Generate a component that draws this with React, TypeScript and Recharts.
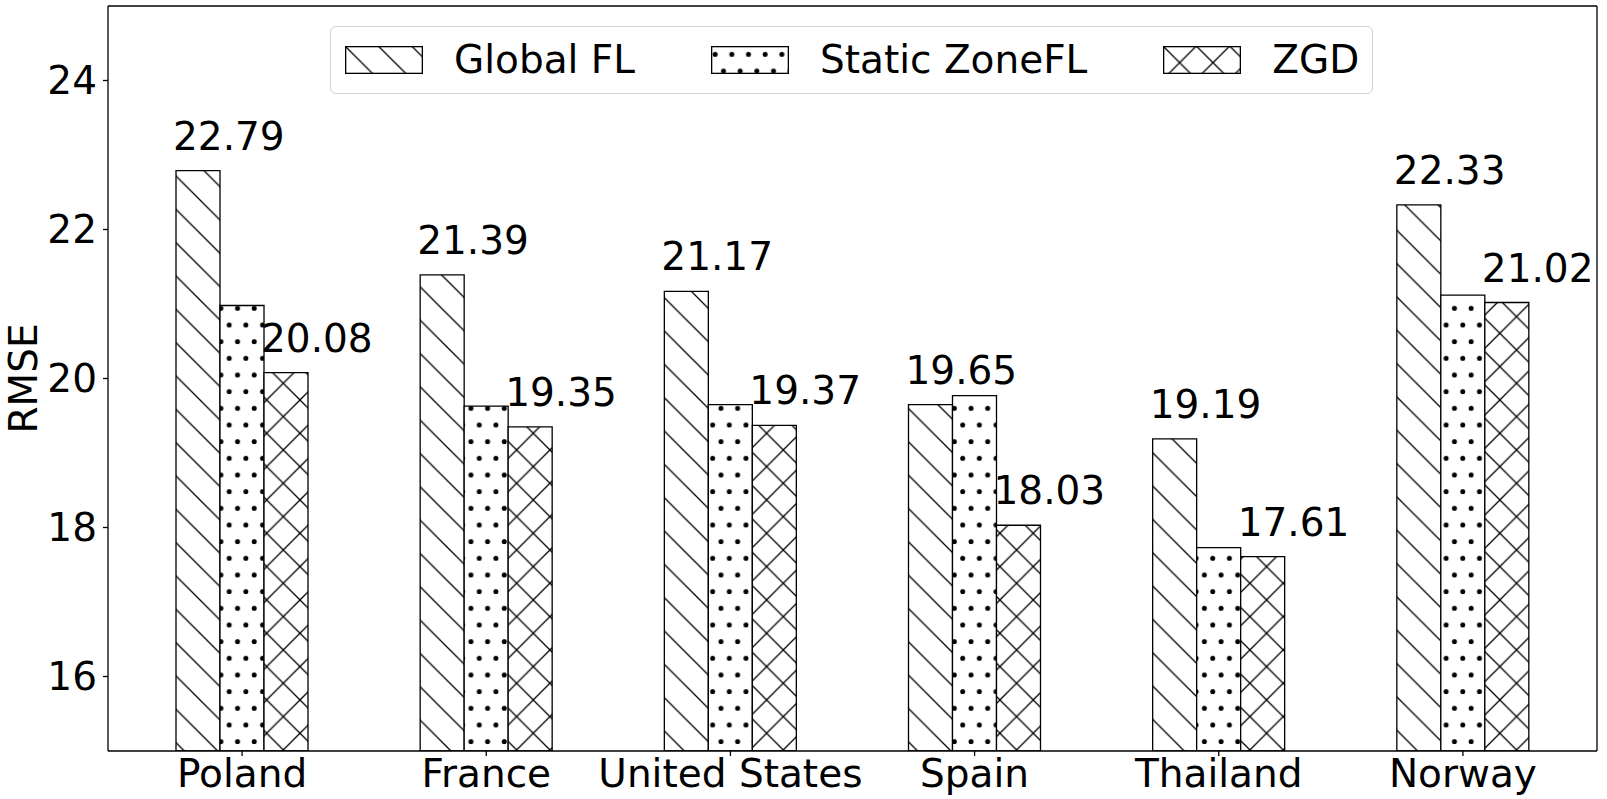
import React from 'react';
import { BarChart, Bar, XAxis, YAxis, LabelList } from 'recharts';

const categories = ['Poland', 'France', 'United States', 'Spain', 'Thailand', 'Norway'];
const globalFL = [22.79, 21.39, 21.17, 19.65, 19.19, 22.33];
const staticZoneFL = [20.98, 19.63, 19.65, 19.77, 17.73, 21.12];
const zgd = [20.08, 19.35, 19.37, 18.03, 17.61, 21.02];
const yTicks = [16, 18, 20, 22, 24];
const seriesNames = ['Global FL', 'Static ZoneFL', 'ZGD'];
const patternIds = ['hatchDiag', 'hatchDots', 'hatchCross'];

const data = categories.map((c, i) => ({
  country: c,
  globalFL: globalFL[i],
  staticZoneFL: staticZoneFL[i],
  zgd: zgd[i],
}));

const FONT = 'DejaVu Sans, sans-serif';
const FS = 39;

const Patterns = () => (
  <svg width={0} height={0} style={{ position: 'absolute' }}>
    <defs>
      <pattern id="hatchDiag" patternUnits="userSpaceOnUse" width={33.33} height={33.33}>
        <rect width={33.33} height={33.33} fill="white" />
        <path d="M0,0 L33.33,33.33 M-5,28.33 L5,38.33 M28.33,-5 L38.33,5" stroke="black" strokeWidth={1.3} />
      </pattern>
      <pattern id="hatchDots" patternUnits="userSpaceOnUse" width={16.67} height={33.33}>
        <rect width={16.67} height={33.33} fill="white" />
        <circle cx={4.17} cy={8.33} r={2.5} fill="black" />
        <circle cx={12.5} cy={25} r={2.5} fill="black" />
      </pattern>
      <pattern id="hatchCross" patternUnits="userSpaceOnUse" width={33.33} height={33.33}>
        <rect width={33.33} height={33.33} fill="white" />
        <path d="M0,0 L33.33,33.33 M-5,28.33 L5,38.33 M28.33,-5 L38.33,5 M0,33.33 L33.33,0 M-5,5 L5,-5 M28.33,38.33 L38.33,28.33" stroke="black" strokeWidth={1.3} />
      </pattern>
    </defs>
  </svg>
);

const ValueLabel = (props: any) => {
  const { x, y, value } = props;
  return (
    <text x={x - 3} y={y - 21} textAnchor="start" fontFamily={FONT} fontSize={FS} fill="black">
      {Number(value).toFixed(2)}
    </text>
  );
};

const LegendBox = () => (
  <div
    style={{
      position: 'absolute',
      left: 330,
      top: 26,
      display: 'flex',
      alignItems: 'center',
      boxSizing: 'border-box',
      width: 1043,
      height: 68,
      padding: '0 11px 0 14px',
      border: '1.3px solid #d0d0d0',
      borderRadius: 6,
      background: 'rgba(255,255,255,0.8)',
      fontFamily: FONT,
      fontSize: FS,
      color: 'black',
    }}
  >
    {seriesNames.map((name, i) => (
      <div key={name} style={{ display: 'flex', alignItems: 'center', marginRight: i < 2 ? 76 : 0 }}>
        <svg width={78} height={28} style={{ marginRight: 31, display: 'block' }}>
          <rect x={0.65} y={0.65} width={76.7} height={26.7} fill={`url(#${patternIds[i]})`} stroke="black" strokeWidth={1.3} />
        </svg>
        <span style={{ lineHeight: '40px', whiteSpace: 'nowrap' }}>{name}</span>
      </div>
    ))}
  </div>
);

const YLabel = (props: any) => {
  const vb = props.viewBox || { x: 0, y: 0, width: 0, height: 0 };
  const cx = 23;
  const cy = vb.y + vb.height / 2;
  return (
    <text
      x={cx}
      y={cy}
      transform={`rotate(-90, ${cx}, ${cy})`}
      textAnchor="middle"
      dominantBaseline="central"
      fontFamily={FONT}
      fontSize={FS}
      fill="black"
    >
      RMSE
    </text>
  );
};

export default function App() {
  return (
    <div style={{ position: 'absolute', left: 0, top: 0, width: 1607, height: 799, background: 'white' }}>
      <Patterns />
      <BarChart
        width={1607}
        height={799}
        data={data}
        margin={{ top: 5, right: 9, bottom: 0, left: 0 }}
        barGap={0}
        barSize={44}
      >
        <XAxis
          dataKey="country"
          height={48}
          padding={{ left: 12, right: 12 }}
          interval={0}
          axisLine={{ stroke: 'black', strokeWidth: 1.3 }}
          tickLine={{ stroke: 'black', strokeWidth: 1.3 }}
          tickSize={5}
          tickMargin={3}
          tick={{ fill: 'black', fontSize: FS, fontFamily: FONT }}
        />
        <XAxis
          xAxisId="top"
          dataKey="country"
          orientation="top"
          height={1}
          tick={false}
          tickLine={false}
          axisLine={{ stroke: 'black', strokeWidth: 1.3 }}
        />
        <YAxis
          type="number"
          domain={[15, 25]}
          ticks={yTicks}
          allowDataOverflow
          width={108}
          axisLine={{ stroke: 'black', strokeWidth: 1.3 }}
          tickLine={{ stroke: 'black', strokeWidth: 1.3 }}
          tickSize={5}
          tickMargin={6}
          tick={{ fill: 'black', fontSize: FS, fontFamily: FONT }}
          label={{ content: <YLabel /> }}
        />
        <YAxis
          yAxisId="right"
          orientation="right"
          type="number"
          domain={[15, 25]}
          allowDataOverflow
          width={1}
          tick={false}
          tickLine={false}
          axisLine={{ stroke: 'black', strokeWidth: 1.3 }}
        />
        <Bar dataKey="globalFL" name={seriesNames[0]} fill="url(#hatchDiag)" stroke="black" strokeWidth={1.3} isAnimationActive={false}>
          <LabelList dataKey="globalFL" content={<ValueLabel />} />
        </Bar>
        <Bar dataKey="staticZoneFL" name={seriesNames[1]} fill="url(#hatchDots)" stroke="black" strokeWidth={1.3} isAnimationActive={false} />
        <Bar dataKey="zgd" name={seriesNames[2]} fill="url(#hatchCross)" stroke="black" strokeWidth={1.3} isAnimationActive={false}>
          <LabelList dataKey="zgd" content={<ValueLabel />} />
        </Bar>
      </BarChart>
      <LegendBox />
    </div>
  );
}
